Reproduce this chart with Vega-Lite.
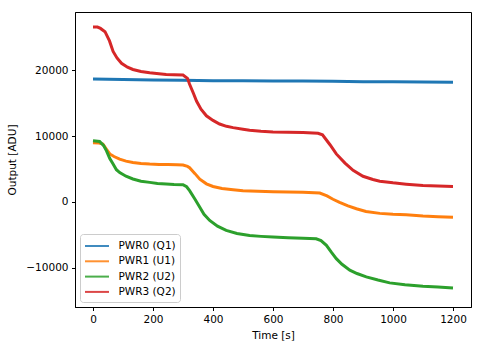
{
  "$schema": "https://vega.github.io/schema/vega-lite/v6.json",
  "autosize": {"type": "none"},
  "padding": {"left": 75, "top": 12, "right": 11, "bottom": 40},
  "width": 396,
  "height": 295,
  "background": "white",
  "config": {
    "font": "DejaVu Sans",
    "view": {"stroke": "black", "strokeWidth": 1},
    "axis": {
      "grid": false,
      "domainColor": "black",
      "tickColor": "black",
      "tickSize": 3.5,
      "labelFontSize": 10.5,
      "labelColor": "black",
      "labelPadding": 3.5,
      "titleFontSize": 10.5,
      "titleFontWeight": "normal",
      "titleColor": "black",
      "labelFont": "DejaVu Sans",
      "titleFont": "DejaVu Sans"
    }
  },
  "data": {
    "values": [
      {"t": 0, "v": 18700, "s": "PWR0 (Q1)"},
      {"t": 100, "v": 18620, "s": "PWR0 (Q1)"},
      {"t": 200, "v": 18550, "s": "PWR0 (Q1)"},
      {"t": 300, "v": 18500, "s": "PWR0 (Q1)"},
      {"t": 400, "v": 18450, "s": "PWR0 (Q1)"},
      {"t": 500, "v": 18420, "s": "PWR0 (Q1)"},
      {"t": 600, "v": 18400, "s": "PWR0 (Q1)"},
      {"t": 700, "v": 18380, "s": "PWR0 (Q1)"},
      {"t": 800, "v": 18350, "s": "PWR0 (Q1)"},
      {"t": 900, "v": 18300, "s": "PWR0 (Q1)"},
      {"t": 1000, "v": 18280, "s": "PWR0 (Q1)"},
      {"t": 1100, "v": 18250, "s": "PWR0 (Q1)"},
      {"t": 1200, "v": 18200, "s": "PWR0 (Q1)"},

      {"t": 0, "v": 9000, "s": "PWR1 (U1)"},
      {"t": 20, "v": 8950, "s": "PWR1 (U1)"},
      {"t": 33, "v": 8800, "s": "PWR1 (U1)"},
      {"t": 45, "v": 8000, "s": "PWR1 (U1)"},
      {"t": 56, "v": 7300, "s": "PWR1 (U1)"},
      {"t": 70, "v": 6900, "s": "PWR1 (U1)"},
      {"t": 89, "v": 6500, "s": "PWR1 (U1)"},
      {"t": 110, "v": 6200, "s": "PWR1 (U1)"},
      {"t": 133, "v": 6000, "s": "PWR1 (U1)"},
      {"t": 160, "v": 5850, "s": "PWR1 (U1)"},
      {"t": 189, "v": 5760, "s": "PWR1 (U1)"},
      {"t": 220, "v": 5700, "s": "PWR1 (U1)"},
      {"t": 250, "v": 5680, "s": "PWR1 (U1)"},
      {"t": 280, "v": 5650, "s": "PWR1 (U1)"},
      {"t": 300, "v": 5600, "s": "PWR1 (U1)"},
      {"t": 315, "v": 5400, "s": "PWR1 (U1)"},
      {"t": 322, "v": 5200, "s": "PWR1 (U1)"},
      {"t": 340, "v": 4300, "s": "PWR1 (U1)"},
      {"t": 356, "v": 3450, "s": "PWR1 (U1)"},
      {"t": 378, "v": 2750, "s": "PWR1 (U1)"},
      {"t": 400, "v": 2350, "s": "PWR1 (U1)"},
      {"t": 430, "v": 2050, "s": "PWR1 (U1)"},
      {"t": 467, "v": 1850, "s": "PWR1 (U1)"},
      {"t": 500, "v": 1700, "s": "PWR1 (U1)"},
      {"t": 550, "v": 1600, "s": "PWR1 (U1)"},
      {"t": 600, "v": 1550, "s": "PWR1 (U1)"},
      {"t": 650, "v": 1500, "s": "PWR1 (U1)"},
      {"t": 700, "v": 1450, "s": "PWR1 (U1)"},
      {"t": 756, "v": 1350, "s": "PWR1 (U1)"},
      {"t": 780, "v": 900, "s": "PWR1 (U1)"},
      {"t": 800, "v": 400, "s": "PWR1 (U1)"},
      {"t": 822, "v": -60, "s": "PWR1 (U1)"},
      {"t": 850, "v": -600, "s": "PWR1 (U1)"},
      {"t": 878, "v": -1050, "s": "PWR1 (U1)"},
      {"t": 910, "v": -1450, "s": "PWR1 (U1)"},
      {"t": 956, "v": -1750, "s": "PWR1 (U1)"},
      {"t": 1000, "v": -1900, "s": "PWR1 (U1)"},
      {"t": 1044, "v": -1970, "s": "PWR1 (U1)"},
      {"t": 1100, "v": -2150, "s": "PWR1 (U1)"},
      {"t": 1150, "v": -2250, "s": "PWR1 (U1)"},
      {"t": 1200, "v": -2350, "s": "PWR1 (U1)"},

      {"t": 0, "v": 9300, "s": "PWR2 (U2)"},
      {"t": 22, "v": 9200, "s": "PWR2 (U2)"},
      {"t": 35, "v": 8600, "s": "PWR2 (U2)"},
      {"t": 45, "v": 7770, "s": "PWR2 (U2)"},
      {"t": 56, "v": 6600, "s": "PWR2 (U2)"},
      {"t": 67, "v": 5760, "s": "PWR2 (U2)"},
      {"t": 78, "v": 4900, "s": "PWR2 (U2)"},
      {"t": 89, "v": 4450, "s": "PWR2 (U2)"},
      {"t": 110, "v": 3900, "s": "PWR2 (U2)"},
      {"t": 133, "v": 3480, "s": "PWR2 (U2)"},
      {"t": 160, "v": 3150, "s": "PWR2 (U2)"},
      {"t": 189, "v": 2970, "s": "PWR2 (U2)"},
      {"t": 215, "v": 2800, "s": "PWR2 (U2)"},
      {"t": 244, "v": 2730, "s": "PWR2 (U2)"},
      {"t": 270, "v": 2650, "s": "PWR2 (U2)"},
      {"t": 300, "v": 2620, "s": "PWR2 (U2)"},
      {"t": 312, "v": 2300, "s": "PWR2 (U2)"},
      {"t": 322, "v": 1710, "s": "PWR2 (U2)"},
      {"t": 340, "v": 400, "s": "PWR2 (U2)"},
      {"t": 356, "v": -820, "s": "PWR2 (U2)"},
      {"t": 370, "v": -1900, "s": "PWR2 (U2)"},
      {"t": 389, "v": -2830, "s": "PWR2 (U2)"},
      {"t": 415, "v": -3700, "s": "PWR2 (U2)"},
      {"t": 444, "v": -4350, "s": "PWR2 (U2)"},
      {"t": 480, "v": -4800, "s": "PWR2 (U2)"},
      {"t": 522, "v": -5110, "s": "PWR2 (U2)"},
      {"t": 560, "v": -5250, "s": "PWR2 (U2)"},
      {"t": 600, "v": -5360, "s": "PWR2 (U2)"},
      {"t": 650, "v": -5450, "s": "PWR2 (U2)"},
      {"t": 700, "v": -5550, "s": "PWR2 (U2)"},
      {"t": 744, "v": -5610, "s": "PWR2 (U2)"},
      {"t": 760, "v": -5900, "s": "PWR2 (U2)"},
      {"t": 778, "v": -6620, "s": "PWR2 (U2)"},
      {"t": 795, "v": -7700, "s": "PWR2 (U2)"},
      {"t": 811, "v": -8640, "s": "PWR2 (U2)"},
      {"t": 830, "v": -9500, "s": "PWR2 (U2)"},
      {"t": 856, "v": -10400, "s": "PWR2 (U2)"},
      {"t": 880, "v": -10900, "s": "PWR2 (U2)"},
      {"t": 911, "v": -11420, "s": "PWR2 (U2)"},
      {"t": 950, "v": -11900, "s": "PWR2 (U2)"},
      {"t": 989, "v": -12330, "s": "PWR2 (U2)"},
      {"t": 1040, "v": -12600, "s": "PWR2 (U2)"},
      {"t": 1100, "v": -12830, "s": "PWR2 (U2)"},
      {"t": 1150, "v": -12950, "s": "PWR2 (U2)"},
      {"t": 1200, "v": -13100, "s": "PWR2 (U2)"},

      {"t": 0, "v": 26600, "s": "PWR3 (Q2)"},
      {"t": 15, "v": 26600, "s": "PWR3 (Q2)"},
      {"t": 25, "v": 26400, "s": "PWR3 (Q2)"},
      {"t": 40, "v": 25900, "s": "PWR3 (Q2)"},
      {"t": 55, "v": 24500, "s": "PWR3 (Q2)"},
      {"t": 67, "v": 22900, "s": "PWR3 (Q2)"},
      {"t": 80, "v": 21900, "s": "PWR3 (Q2)"},
      {"t": 95, "v": 21100, "s": "PWR3 (Q2)"},
      {"t": 115, "v": 20500, "s": "PWR3 (Q2)"},
      {"t": 133, "v": 20150, "s": "PWR3 (Q2)"},
      {"t": 160, "v": 19850, "s": "PWR3 (Q2)"},
      {"t": 189, "v": 19640, "s": "PWR3 (Q2)"},
      {"t": 220, "v": 19500, "s": "PWR3 (Q2)"},
      {"t": 244, "v": 19400, "s": "PWR3 (Q2)"},
      {"t": 270, "v": 19350, "s": "PWR3 (Q2)"},
      {"t": 300, "v": 19300, "s": "PWR3 (Q2)"},
      {"t": 315, "v": 18800, "s": "PWR3 (Q2)"},
      {"t": 322, "v": 17900, "s": "PWR3 (Q2)"},
      {"t": 335, "v": 16500, "s": "PWR3 (Q2)"},
      {"t": 345, "v": 15350, "s": "PWR3 (Q2)"},
      {"t": 360, "v": 14100, "s": "PWR3 (Q2)"},
      {"t": 378, "v": 13100, "s": "PWR3 (Q2)"},
      {"t": 400, "v": 12400, "s": "PWR3 (Q2)"},
      {"t": 422, "v": 11850, "s": "PWR3 (Q2)"},
      {"t": 445, "v": 11500, "s": "PWR3 (Q2)"},
      {"t": 467, "v": 11300, "s": "PWR3 (Q2)"},
      {"t": 500, "v": 11050, "s": "PWR3 (Q2)"},
      {"t": 522, "v": 10900, "s": "PWR3 (Q2)"},
      {"t": 560, "v": 10750, "s": "PWR3 (Q2)"},
      {"t": 600, "v": 10650, "s": "PWR3 (Q2)"},
      {"t": 650, "v": 10600, "s": "PWR3 (Q2)"},
      {"t": 700, "v": 10550, "s": "PWR3 (Q2)"},
      {"t": 750, "v": 10450, "s": "PWR3 (Q2)"},
      {"t": 765, "v": 10200, "s": "PWR3 (Q2)"},
      {"t": 790, "v": 8700, "s": "PWR3 (Q2)"},
      {"t": 811, "v": 7300, "s": "PWR3 (Q2)"},
      {"t": 840, "v": 5900, "s": "PWR3 (Q2)"},
      {"t": 867, "v": 4800, "s": "PWR3 (Q2)"},
      {"t": 900, "v": 3900, "s": "PWR3 (Q2)"},
      {"t": 933, "v": 3400, "s": "PWR3 (Q2)"},
      {"t": 956, "v": 3150, "s": "PWR3 (Q2)"},
      {"t": 1000, "v": 2900, "s": "PWR3 (Q2)"},
      {"t": 1044, "v": 2700, "s": "PWR3 (Q2)"},
      {"t": 1100, "v": 2500, "s": "PWR3 (Q2)"},
      {"t": 1150, "v": 2400, "s": "PWR3 (Q2)"},
      {"t": 1200, "v": 2350, "s": "PWR3 (Q2)"}
    ]
  },
  "mark": {"type": "line", "strokeWidth": 3, "clip": true},
  "encoding": {
    "x": {
      "field": "t", "type": "quantitative",
      "scale": {"domain": [-60, 1260], "nice": false, "zero": false},
      "axis": {"title": "Time [s]", "values": [0, 200, 400, 600, 800, 1000, 1200], "titlePadding": 6, "format": "d"}
    },
    "y": {
      "field": "v", "type": "quantitative",
      "scale": {"domain": [-16000, 28900], "nice": false, "zero": false},
      "axis": {"title": "Output [ADU]", "values": [-10000, 0, 10000, 20000], "titlePadding": 8, "format": "d"}
    },
    "color": {
      "field": "s", "type": "nominal",
      "scale": {
        "domain": ["PWR0 (Q1)", "PWR1 (U1)", "PWR2 (U2)", "PWR3 (Q2)"],
        "range": ["#1f77b4", "#ff7f0e", "#2ca02c", "#d62728"]
      },
      "legend": {
        "title": null,
        "orient": "bottom-left",
        "offset": 5,
        "symbolType": "M-1,0H2.43",
        "symbolSize": 196,
        "symbolStrokeWidth": 2,
        "symbolOpacity": 0.85,
        "labelFontSize": 10.5,
        "labelColor": "black",
        "labelFont": "DejaVu Sans",
        "labelOffset": 18.5,
        "fillColor": "white",
        "strokeColor": "#cccccc",
        "cornerRadius": 3,
        "padding": 4,
        "rowPadding": 1.3
      }
    },
    "order": {"field": "t", "type": "quantitative"}
  }
}
